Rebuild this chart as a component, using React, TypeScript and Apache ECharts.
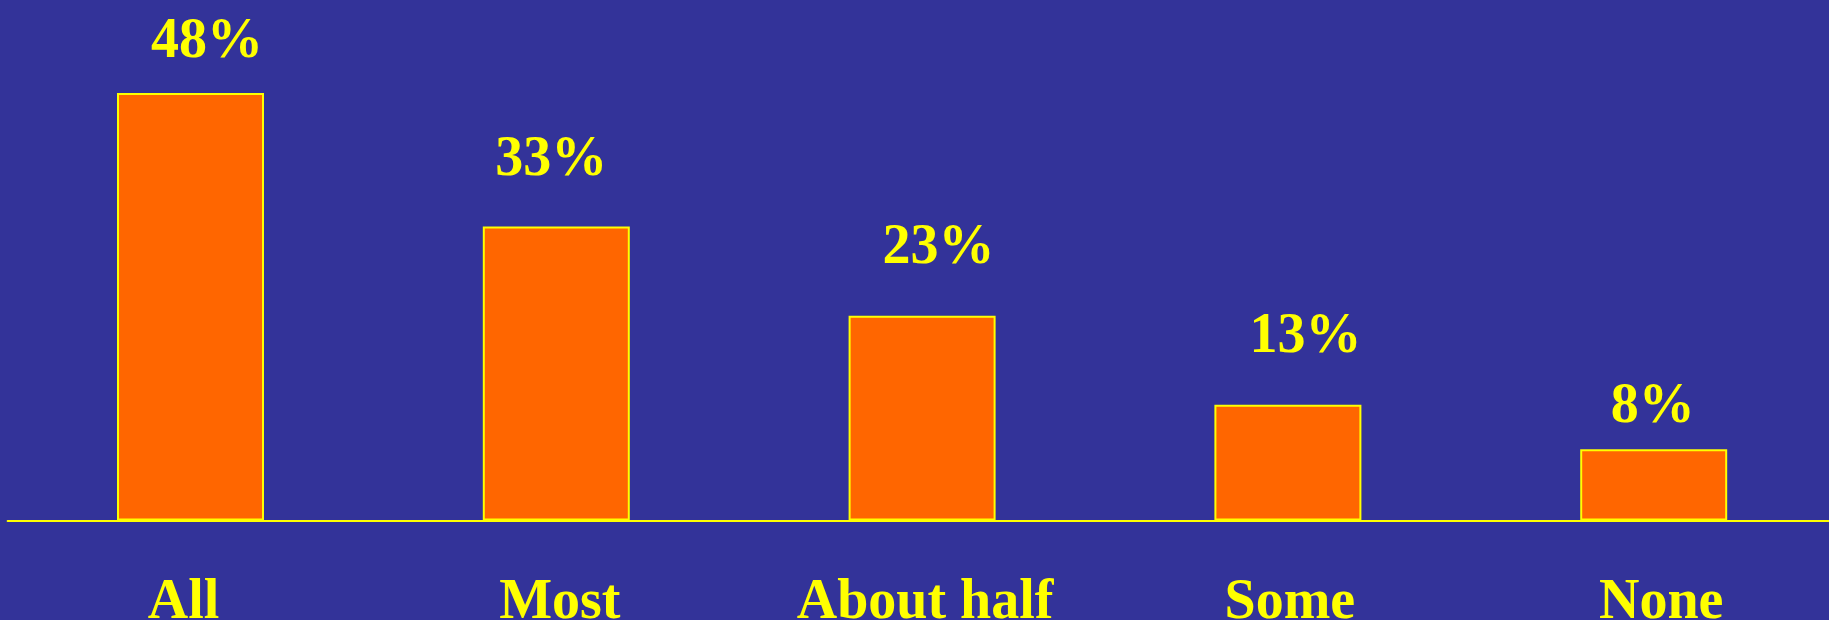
import React, { useEffect, useRef } from "react";
import * as echarts from "echarts";

const categories = ["All", "Most", "About half", "Some", "None"];
const values = [48, 33, 23, 13, 8];
// label placement tweaks (styling only): [dx, distance above bar]
const valueLabelShift = [
  [16.5, 27.5],
  [-5, 43],
  [16.5, 43.5],
  [17.5, 44],
  [-1, 18.5],
];
const categoryLabelShift = [-7, 3.5, 3, 2, 7.5];

const YELLOW = "#FFFF00";
const FONT = "'Liberation Serif', 'Times New Roman', serif";

export default function App() {
  const ref = useRef<HTMLDivElement>(null);
  useEffect(() => {
    document.body.style.margin = "0";
    const chart = echarts.init(ref.current!, null, { renderer: "svg" });
    chart.setOption({
      animation: false,
      backgroundColor: "#333399",
      grid: {
        left: 7.6,
        top: 75.2,
        width: 1829,
        height: 445.3,
        containLabel: false,
        outerBoundsMode: "none",
      },
      xAxis: {
        type: "category",
        data: categories.map((c, i) => {
          const s = categoryLabelShift[i];
          return {
            value: c,
            textStyle: {
              padding: s >= 0 ? [0, 0, 0, 2 * s] : [0, -2 * s, 0, 0],
            },
          };
        }),
        axisLine: { show: true, lineStyle: { color: YELLOW, width: 2 } },
        axisTick: { show: false },
        axisLabel: {
          color: YELLOW,
          fontFamily: FONT,
          fontWeight: "bold",
          fontSize: 56,
          margin: 50,
          interval: 0,
        },
      },
      yAxis: {
        type: "value",
        min: 0,
        max: 50,
        show: false,
        splitLine: { show: false },
      },
      series: [
        {
          type: "bar",
          barWidth: 147,
          data: values.map((v, i) => ({
            value: v,
            label: {
              distance: valueLabelShift[i][1],
              offset: [valueLabelShift[i][0], 0],
            },
          })),
          itemStyle: { color: "#FF6600", borderColor: YELLOW, borderWidth: 2 },
          label: {
            show: true,
            position: "top",
            formatter: "{c}%",
            color: YELLOW,
            fontFamily: FONT,
            fontWeight: "bold",
            fontSize: 56,
          },
        },
      ],
    });
    return () => chart.dispose();
  }, []);
  return (
    <div
      ref={ref}
      style={{ position: "absolute", left: 0, top: 0, width: 1829, height: 620 }}
    />
  );
}
